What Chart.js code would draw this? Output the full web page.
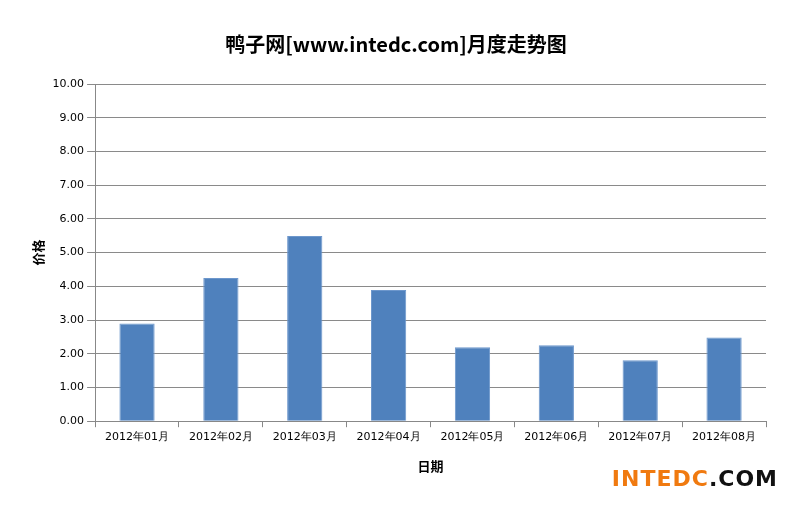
<!DOCTYPE html>
<html>
<head>
<meta charset="utf-8">
<script src="https://cdn.jsdelivr.net/npm/chart.js@4"></script>
<style>
  body { margin: 0; background: #fff; }
  #wrap { position: relative; width: 800px; height: 505px; }
  #logo { position: absolute; right: 22px; bottom: 14px; font: bold 22px "DejaVu Sans", sans-serif; color: #111; letter-spacing: 1px; }
  #logo span { color: #f07a10; }
</style>
</head>
<body>
<div id="wrap">
  <canvas id="chart" width="800" height="505"></canvas>
  <div id="logo"><span>INTEDC</span>.COM</div>
</div>
<script>
// --- Data ---
const months = ['2012年01月', '2012年02月', '2012年03月', '2012年04月', '2012年05月', '2012年06月', '2012年07月', '2012年08月'];
const prices = [2.90, 4.25, 5.49, 3.89, 2.19, 2.25, 1.81, 2.48];

const ctx = document.getElementById('chart').getContext('2d');
new Chart(ctx, {
    type: 'bar',
    data: {
        labels: months,
        datasets: [{
            label: '价格',
            data: prices,
            backgroundColor: '#4f81bd',
            borderColor: '#6d97cc',
            borderWidth: 1,
            barPercentage: 0.42,
            categoryPercentage: 1.0
        }]
    },
    options: {
        responsive: false,
        animation: false,
        layout: { padding: { left: 26, right: 34, top: 12, bottom: 27 } },
        scales: {
            x: {
                grid: { display: true, offset: true, drawOnChartArea: false, tickLength: 6, color: '#888' },
                border: { color: '#888' },
                ticks: { color: '#000', font: { size: 11, family: 'DejaVu Sans' } },
                title: { display: true, text: '日期', color: '#000', padding: { top: 12 }, font: { size: 13, weight: 'bold', family: 'Noto Sans CJK SC' } }
            },
            y: {
                min: 0, max: 10,
                ticks: { stepSize: 1, color: '#000', callback: v => v.toFixed(2), font: { size: 11, family: 'DejaVu Sans' } },
                grid: { color: '#8a8a8a' },
                border: { color: '#888' },
                title: { display: true, text: '价格', color: '#000', font: { size: 13, weight: 'bold', family: 'Noto Sans CJK SC' } }
            }
        },
        plugins: {
            legend: { display: false },
            title: {
                display: true,
                text: '鸭子网[www.intedc.com]月度走势图',
                color: '#000',
                padding: { top: 20, bottom: 28 },
                font: { size: 20, weight: 'bold', family: 'Noto Sans CJK SC' }
            }
        }
    }
});
</script>
</body>
</html>
